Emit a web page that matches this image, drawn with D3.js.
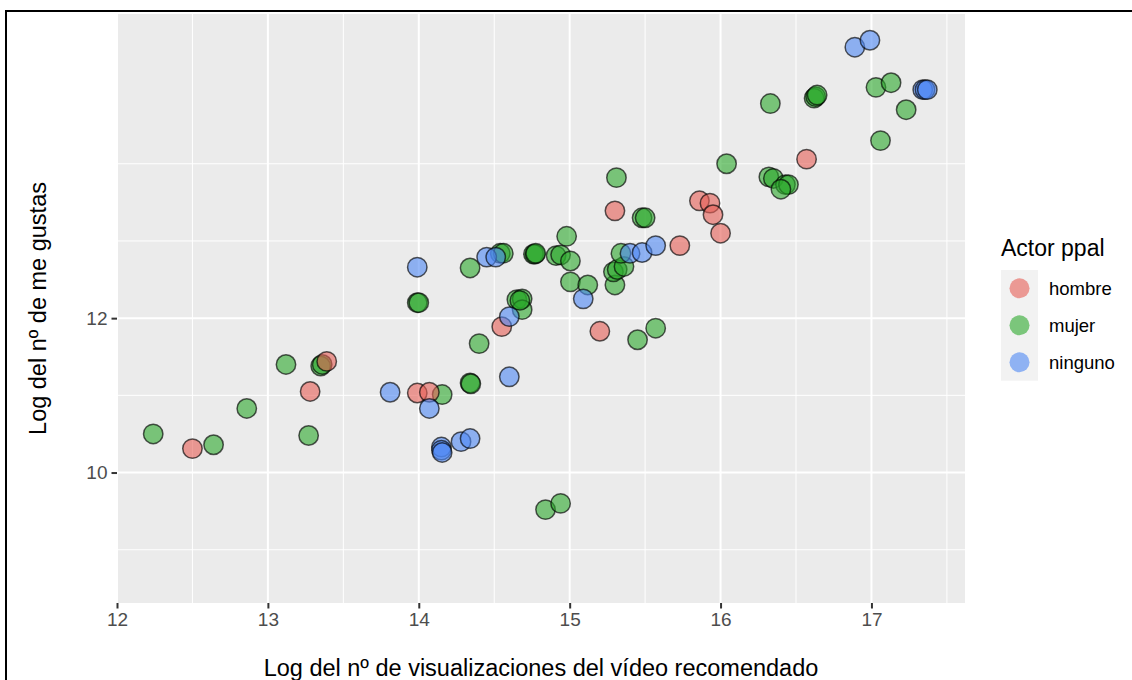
<!DOCTYPE html>
<html>
<head>
<meta charset="utf-8">
<script src="https://cdn.jsdelivr.net/npm/d3@7"></script>
<style>
  html, body { margin: 0; padding: 0; background: #ffffff; }
  svg { display: block; font-family: "Liberation Sans", Arial, Helvetica, sans-serif; }
</style>
</head>
<body>
<svg id="chart" width="1132" height="680"></svg>
<script>
// Log of views (x) and log of likes (y), one pair of arrays per lead-actor group
const categories = ["hombre", "mujer", "ninguno"];
const colors = ["#E65D55", "#2BA82B", "#4D87F3"];

const hombreX = [12.50, 13.28, 13.39, 13.99, 14.07, 14.55, 15.20, 15.30, 15.73, 15.86, 15.93, 15.95, 16.00, 16.57];
const hombreY = [10.31, 11.05, 11.44, 11.03, 11.04, 11.89, 11.83, 13.39, 12.94, 13.52, 13.49, 13.34, 13.10, 14.06];

const mujerX = [12.24, 12.64, 12.86, 13.12, 13.35, 13.36, 13.27, 14.155, 14.34, 14.345, 14.40, 13.99, 14.00, 14.34,
                14.54, 14.56, 14.76, 14.77, 14.775, 14.91, 14.94, 15.005, 14.98, 15.005, 15.12, 14.65, 14.685, 14.685,
                14.67, 15.30, 15.29, 15.315, 15.36, 15.34, 15.45, 15.57, 15.31, 15.48, 15.50, 16.04, 16.32, 16.35,
                16.43, 16.45, 16.40, 16.33, 16.62, 16.63, 16.64, 17.03, 17.13, 17.23, 17.06, 14.84, 14.94];
const mujerY = [10.50, 10.36, 10.83, 11.40, 11.38, 11.40, 10.48, 11.01, 11.16, 11.15, 11.67, 12.20, 12.20, 12.65,
                12.84, 12.84, 12.83, 12.83, 12.84, 12.81, 12.82, 12.74, 13.06, 12.47, 12.43, 12.24, 12.25, 12.11,
                12.23, 12.43, 12.60, 12.63, 12.67, 12.84, 11.72, 11.87, 13.82, 13.30, 13.30, 14.00, 13.83, 13.81,
                13.73, 13.73, 13.67, 14.78, 14.85, 14.87, 14.89, 14.99, 15.05, 14.70, 14.30, 9.52, 9.60];

const ningunoX = [13.81, 14.07, 14.15, 14.15, 14.155, 14.28, 14.34, 14.60, 14.60, 15.09, 13.99, 14.45, 14.51,
                  15.40, 15.48, 15.57, 16.89, 16.99, 17.34, 17.355, 17.37];
const ningunoY = [11.04, 10.83, 10.33, 10.29, 10.26, 10.40, 10.44, 11.24, 12.02, 12.25, 12.66, 12.79, 12.79,
                  12.84, 12.85, 12.94, 15.51, 15.60, 14.96, 14.96, 14.96];

const xTicks = [12, 13, 14, 15, 16, 17];
const xMinor = [12.5, 13.5, 14.5, 15.5, 16.5, 17.5];
const yTicks = [10, 12];
const yMinor = [9, 11, 13, 14];

const xTitle = "Log del nº de visualizaciones del vídeo recomendado";
const yTitle = "Log del nº de me gustas";
const legendTitle = "Actor ppal";

// Layout
const panel = { left: 117, top: 14, right: 965, bottom: 603 };
const svg = d3.select("#chart");

// Outer frame
svg.append("rect")
  .attr("x", 6).attr("y", 11).attr("width", 1140).attr("height", 700)
  .attr("fill", "none").attr("stroke", "#000").attr("stroke-width", 2);

const x = d3.scaleLinear().domain([12.0, 17.62]).range([panel.left, panel.right]);
const y = d3.scaleLinear().domain([8.31, 15.94]).range([panel.bottom, panel.top]);

// Panel background
svg.append("rect")
  .attr("x", panel.left).attr("y", panel.top)
  .attr("width", panel.right - panel.left).attr("height", panel.bottom - panel.top)
  .attr("fill", "#EBEBEB");

const grid = svg.append("g");
// minor grid
grid.selectAll("line.xmin").data(xMinor).join("line")
  .attr("x1", d => x(d)).attr("x2", d => x(d))
  .attr("y1", panel.top).attr("y2", panel.bottom)
  .attr("stroke", "#fff").attr("stroke-width", 1);
grid.selectAll("line.ymin").data(yMinor).join("line")
  .attr("y1", d => y(d)).attr("y2", d => y(d))
  .attr("x1", panel.left).attr("x2", panel.right)
  .attr("stroke", "#fff").attr("stroke-width", 1);
// major grid
grid.selectAll("line.xmaj").data(xTicks).join("line")
  .attr("x1", d => x(d)).attr("x2", d => x(d))
  .attr("y1", panel.top).attr("y2", panel.bottom)
  .attr("stroke", "#fff").attr("stroke-width", 2);
grid.selectAll("line.ymaj").data(yTicks).join("line")
  .attr("y1", d => y(d)).attr("y2", d => y(d))
  .attr("x1", panel.left).attr("x2", panel.right)
  .attr("stroke", "#fff").attr("stroke-width", 2);

// Axes
const xAxis = svg.append("g")
  .attr("transform", `translate(0,${panel.bottom})`)
  .call(d3.axisBottom(x).tickValues(xTicks).tickSize(5.5).tickPadding(4).tickFormat(d3.format("d")));
const yAxis = svg.append("g")
  .attr("transform", `translate(${panel.left},0)`)
  .call(d3.axisLeft(y).tickValues(yTicks).tickSize(5.5).tickPadding(4).tickFormat(d3.format("d")));
[xAxis, yAxis].forEach(g => {
  g.select(".domain").remove();
  g.selectAll(".tick line").attr("stroke", "#333333").attr("stroke-width", 2);
  g.selectAll(".tick text").attr("fill", "#4D4D4D").style("font-size", "19px")
    .style("font-family", "'Liberation Sans', Arial, sans-serif");
});

// Axis titles
svg.append("text")
  .attr("x", (panel.left + panel.right) / 2).attr("y", 676)
  .attr("text-anchor", "middle").attr("fill", "#000").style("font-size", "23.5px")
  .text(xTitle);
svg.append("text")
  .attr("transform", `translate(46,${(panel.top + panel.bottom) / 2}) rotate(-90)`)
  .attr("text-anchor", "middle").attr("fill", "#000").style("font-size", "23.5px")
  .text(yTitle);

// Points: mujer, then hombre, then ninguno
const series = [
  { name: "mujer", xs: mujerX, ys: mujerY, color: colors[1] },
  { name: "hombre", xs: hombreX, ys: hombreY, color: colors[0] },
  { name: "ninguno", xs: ningunoX, ys: ningunoY, color: colors[2] }
];
const pts = svg.append("g");
series.forEach(s => {
  const data = s.xs.map((v, i) => ({ x: v, y: s.ys[i] }));
  pts.append("g").selectAll("circle").data(data).join("circle")
    .attr("cx", d => x(d.x)).attr("cy", d => y(d.y)).attr("r", 9.7)
    .attr("fill", s.color).attr("fill-opacity", 0.6)
    .attr("stroke", "#000").attr("stroke-opacity", 0.65).attr("stroke-width", 1.5);
});

// Legend
const lg = svg.append("g");
lg.append("text").attr("x", 1001).attr("y", 256).style("font-size", "23px").attr("fill", "#000")
  .text(legendTitle);
lg.append("rect").attr("x", 1001).attr("y", 270).attr("width", 37).attr("height", 110.7).attr("fill", "#F2F2F2");
categories.forEach((c, i) => {
  const cy = 288.3 + i * 37;
  lg.append("circle").attr("cx", 1019.5).attr("cy", cy).attr("r", 10)
    .attr("fill", colors[i]).attr("fill-opacity", 0.6);
  lg.append("text").attr("x", 1049).attr("y", cy).attr("dy", "0.36em")
    .style("font-size", "18.5px").attr("fill", "#000").text(c);
});
</script>
</body>
</html>
